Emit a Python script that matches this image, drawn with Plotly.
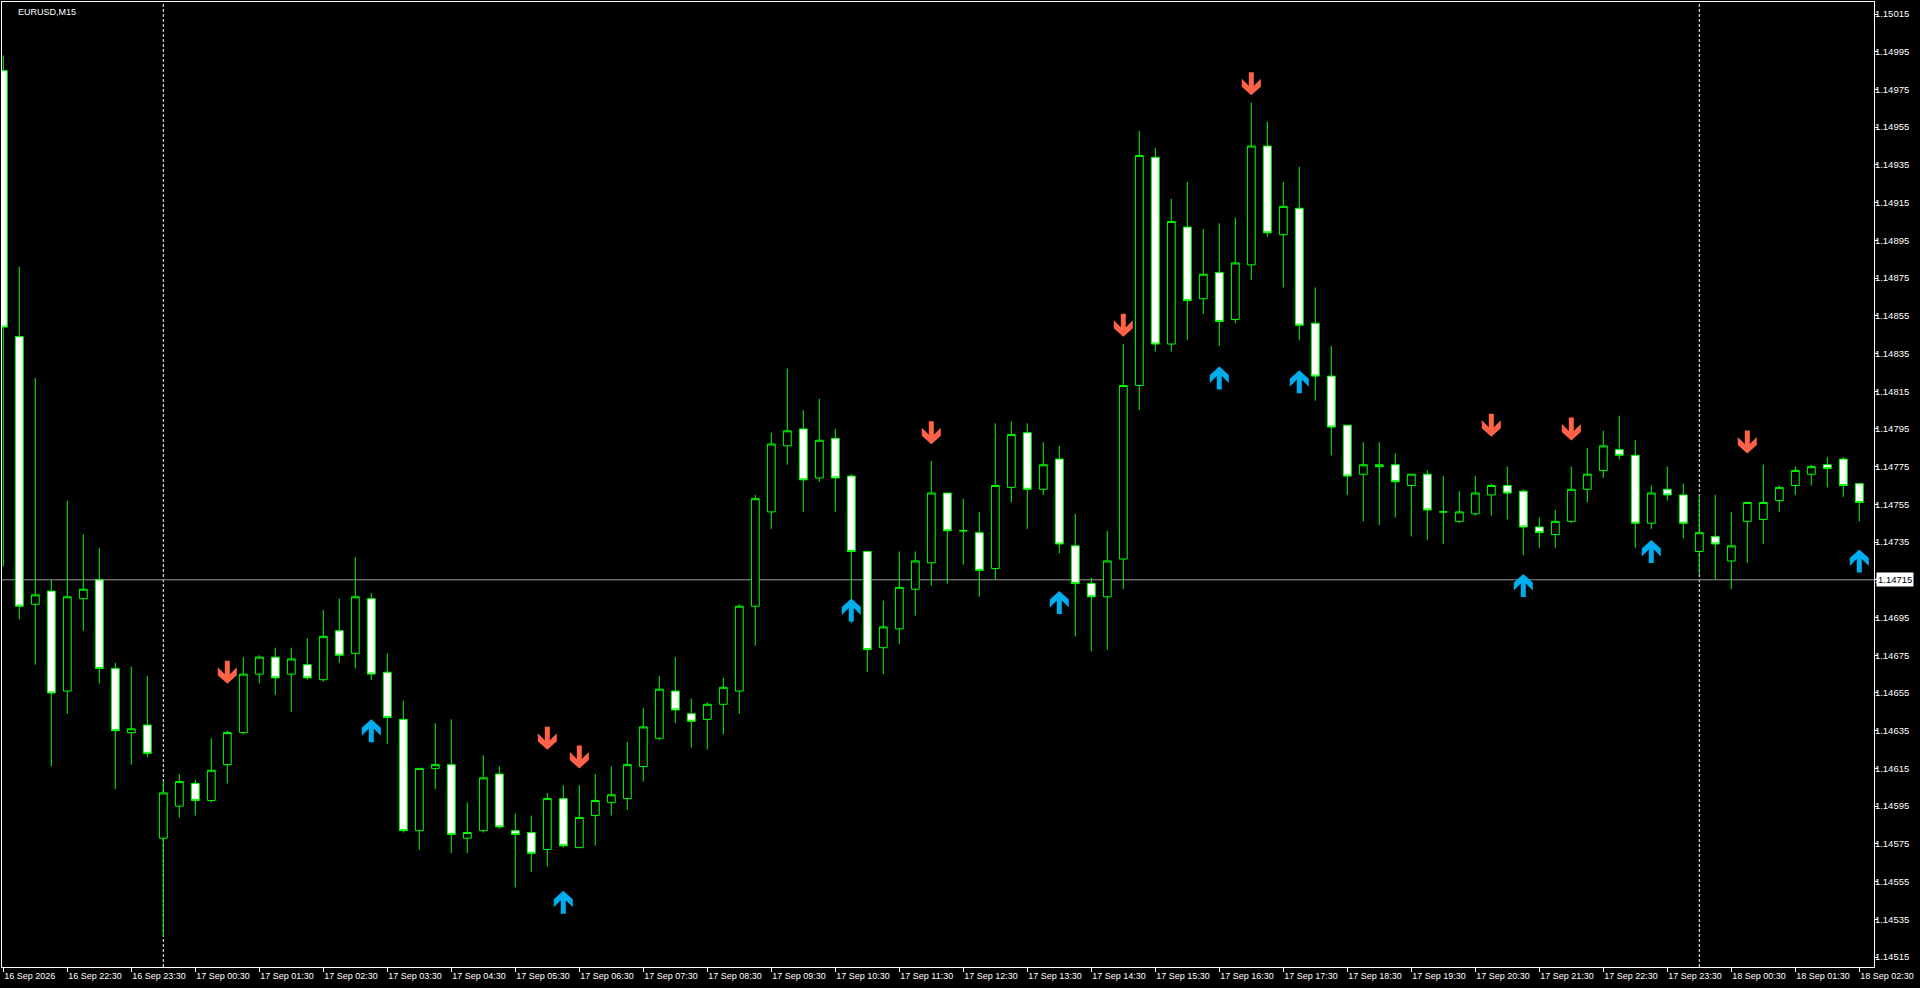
import plotly.graph_objects as go
import pandas as pd

# ---------------- data ----------------
start_time = "2026-09-16 21:30"
n_bars = 117
bar_times = pd.date_range(start_time, periods=n_bars, freq="15min")

open_ = [1.14985, 1.14844, 1.14702, 1.14709, 1.14656, 1.14705, 1.14715, 1.14668, 1.14634, 1.14638,
         1.14578, 1.14595, 1.14607, 1.14598, 1.14617, 1.14634, 1.14665, 1.14674, 1.14665, 1.14670,
         1.14662, 1.14688, 1.14676, 1.14705, 1.14666, 1.14641, 1.14582, 1.14615, 1.14617, 1.14578,
         1.14582, 1.14612, 1.14582, 1.14581, 1.14572, 1.14599, 1.14573, 1.14590, 1.14597, 1.14599,
         1.14616, 1.14631, 1.14656, 1.14644, 1.14641, 1.14649, 1.14656, 1.14701, 1.14751, 1.14786,
         1.14795, 1.14769, 1.14790, 1.14770, 1.14730, 1.14679, 1.14689, 1.14710, 1.14724, 1.14761,
         1.14741, 1.14740, 1.14721, 1.14764, 1.14793, 1.14763, 1.14779, 1.14733, 1.14713, 1.14706,
         1.14726, 1.14818, 1.14939, 1.14840, 1.14902, 1.14864, 1.14878, 1.14853, 1.14882, 1.14945,
         1.14898, 1.14912, 1.14851, 1.14823, 1.14797, 1.14771, 1.14775, 1.14776, 1.14765, 1.14771,
         1.14751, 1.14746, 1.14750, 1.14760, 1.14765, 1.14762, 1.14743, 1.14739, 1.14746, 1.14763,
         1.14773, 1.14784, 1.14781, 1.14745, 1.14763, 1.14760, 1.14730, 1.14738, 1.14725, 1.14746,
         1.14747, 1.14757, 1.14765, 1.14771, 1.14776, 1.14779, 1.14766]
high = [1.14993, 1.14881, 1.14822, 1.14715, 1.14757, 1.14739, 1.14732, 1.14671, 1.14669, 1.14664,
        1.14608, 1.14612, 1.14609, 1.14631, 1.14635, 1.14674, 1.14675, 1.14679, 1.14679, 1.14684,
        1.14699, 1.14705, 1.14727, 1.14708, 1.14676, 1.14651, 1.14615, 1.14639, 1.14641, 1.14597,
        1.14622, 1.14616, 1.14591, 1.14590, 1.14602, 1.14606, 1.14606, 1.14612, 1.14616, 1.14629,
        1.14647, 1.14664, 1.14674, 1.14652, 1.14650, 1.14663, 1.14702, 1.14760, 1.14793, 1.14827,
        1.14805, 1.14811, 1.14795, 1.14771, 1.14730, 1.14704, 1.14730, 1.14730, 1.14778, 1.14761,
        1.14758, 1.14751, 1.14798, 1.14799, 1.14798, 1.14788, 1.14786, 1.14750, 1.14716, 1.14741,
        1.14840, 1.14953, 1.14944, 1.14917, 1.14926, 1.14901, 1.14904, 1.14907, 1.14968, 1.14958,
        1.14926, 1.14934, 1.14870, 1.14839, 1.14797, 1.14788, 1.14788, 1.14782, 1.14771, 1.14773,
        1.14770, 1.14762, 1.14770, 1.14766, 1.14775, 1.14763, 1.14748, 1.14752, 1.14775, 1.14785,
        1.14794, 1.14802, 1.14789, 1.14765, 1.14775, 1.14766, 1.14760, 1.14760, 1.14751, 1.14756,
        1.14776, 1.14765, 1.14775, 1.14776, 1.14780, 1.14780, 1.14766]
low = [1.14722, 1.14694, 1.14670, 1.14616, 1.14644, 1.14688, 1.14660, 1.14604, 1.14617, 1.14621,
       1.14526, 1.14589, 1.14590, 1.14597, 1.14607, 1.14633, 1.14660, 1.14654, 1.14645, 1.14662,
       1.14661, 1.14671, 1.14668, 1.14662, 1.14628, 1.14581, 1.14572, 1.14604, 1.14570, 1.14570,
       1.14581, 1.14583, 1.14552, 1.14560, 1.14563, 1.14573, 1.14573, 1.14574, 1.14590, 1.14593,
       1.14608, 1.14630, 1.14639, 1.14626, 1.14625, 1.14633, 1.14644, 1.14680, 1.14742, 1.14776,
       1.14751, 1.14767, 1.14751, 1.14692, 1.14666, 1.14665, 1.14681, 1.14696, 1.14712, 1.14713,
       1.14723, 1.14706, 1.14715, 1.14756, 1.14742, 1.14760, 1.14729, 1.14685, 1.14677, 1.14678,
       1.14710, 1.14805, 1.14836, 1.14836, 1.14842, 1.14856, 1.14839, 1.14851, 1.14874, 1.14897,
       1.14870, 1.14842, 1.14810, 1.14781, 1.14760, 1.14746, 1.14744, 1.14748, 1.14738, 1.14736,
       1.14734, 1.14745, 1.14749, 1.14749, 1.14747, 1.14728, 1.14732, 1.14732, 1.14745, 1.14756,
       1.14769, 1.14779, 1.14732, 1.14742, 1.14757, 1.14737, 1.14718, 1.14715, 1.14710, 1.14724,
       1.14734, 1.14751, 1.14760, 1.14765, 1.14764, 1.14759, 1.14746]
close = [1.14849, 1.14701, 1.14707, 1.14655, 1.14706, 1.14710, 1.14668, 1.14635, 1.14636, 1.14623,
         1.14602, 1.14608, 1.14598, 1.14614, 1.14634, 1.14665, 1.14674, 1.14663, 1.14673, 1.14663,
         1.14685, 1.14675, 1.14706, 1.14665, 1.14642, 1.14582, 1.14615, 1.14617, 1.14580, 1.14581,
         1.14610, 1.14584, 1.14580, 1.14570, 1.14599, 1.14574, 1.14589, 1.14598, 1.14601, 1.14617,
         1.14637, 1.14657, 1.14646, 1.14640, 1.14649, 1.14658, 1.14701, 1.14758, 1.14787, 1.14794,
         1.14768, 1.14789, 1.14769, 1.14730, 1.14678, 1.14690, 1.14711, 1.14725, 1.14761, 1.14741,
         1.14741, 1.14720, 1.14765, 1.14792, 1.14763, 1.14776, 1.14734, 1.14713, 1.14706, 1.14725,
         1.14818, 1.14940, 1.14840, 1.14905, 1.14863, 1.14877, 1.14852, 1.14883, 1.14945, 1.14899,
         1.14913, 1.14850, 1.14823, 1.14796, 1.14770, 1.14776, 1.14776, 1.14767, 1.14771, 1.14752,
         1.14751, 1.14751, 1.14761, 1.14765, 1.14761, 1.14743, 1.14740, 1.14746, 1.14763, 1.14771,
         1.14786, 1.14781, 1.14745, 1.14761, 1.14760, 1.14745, 1.14740, 1.14734, 1.14733, 1.14756,
         1.14756, 1.14764, 1.14773, 1.14775, 1.14774, 1.14765, 1.14756]

down_arrow_times = ["2026-09-17 01:00", "2026-09-17 06:00", "2026-09-17 06:30", "2026-09-17 12:00",
                    "2026-09-17 15:00", "2026-09-17 17:00", "2026-09-17 20:45", "2026-09-17 22:00",
                    "2026-09-18 00:45"]
down_arrow_prices = [1.14666, 1.14631, 1.14621, 1.14793, 1.14850, 1.14978, 1.14797, 1.14795, 1.14788]

up_arrow_times = ["2026-09-17 03:15", "2026-09-17 06:15", "2026-09-17 10:45", "2026-09-17 14:00",
                  "2026-09-17 16:30", "2026-09-17 17:45", "2026-09-17 21:15", "2026-09-17 23:15",
                  "2026-09-18 02:30"]
up_arrow_prices = [1.14635, 1.14544, 1.14699, 1.14703, 1.14822, 1.14820, 1.14712, 1.14730, 1.14725]

separator_times = ["2026-09-17 00:00", "2026-09-18 00:00"]
price_line = 1.14715
symbol_label = "EURUSD,M15"

x_tick_times = ["2026-09-16 21:30", "2026-09-16 22:30", "2026-09-16 23:30", "2026-09-17 00:30",
                "2026-09-17 01:30", "2026-09-17 02:30", "2026-09-17 03:30", "2026-09-17 04:30",
                "2026-09-17 05:30", "2026-09-17 06:30", "2026-09-17 07:30", "2026-09-17 08:30",
                "2026-09-17 09:30", "2026-09-17 10:30", "2026-09-17 11:30", "2026-09-17 12:30",
                "2026-09-17 13:30", "2026-09-17 14:30", "2026-09-17 15:30", "2026-09-17 16:30",
                "2026-09-17 17:30", "2026-09-17 18:30", "2026-09-17 19:30", "2026-09-17 20:30",
                "2026-09-17 21:30", "2026-09-17 22:30", "2026-09-17 23:30", "2026-09-18 00:30",
                "2026-09-18 01:30", "2026-09-18 02:30"]
x_tick_labels = ["16 Sep 2026", "16 Sep 22:30", "16 Sep 23:30", "17 Sep 00:30", "17 Sep 01:30",
                 "17 Sep 02:30", "17 Sep 03:30", "17 Sep 04:30", "17 Sep 05:30", "17 Sep 06:30",
                 "17 Sep 07:30", "17 Sep 08:30", "17 Sep 09:30", "17 Sep 10:30", "17 Sep 11:30",
                 "17 Sep 12:30", "17 Sep 13:30", "17 Sep 14:30", "17 Sep 15:30", "17 Sep 16:30",
                 "17 Sep 17:30", "17 Sep 18:30", "17 Sep 19:30", "17 Sep 20:30", "17 Sep 21:30",
                 "17 Sep 22:30", "17 Sep 23:30", "18 Sep 00:30", "18 Sep 01:30", "18 Sep 02:30"]
y_tick_values = [1.15015, 1.14995, 1.14975, 1.14955, 1.14935, 1.14915, 1.14895, 1.14875, 1.14855,
                 1.14835, 1.14815, 1.14795, 1.14775, 1.14755, 1.14735, 1.14715, 1.14695, 1.14675,
                 1.14655, 1.14635, 1.14615, 1.14595, 1.14575, 1.14555, 1.14535, 1.14515]
y_tick_labels = [f"{v:.5f}" for v in y_tick_values]

# ---------------- style ----------------
FONT = "Liberation Sans"
FG = "#FFFFFF"
CANDLE_LINE = "#00FF00"
DOWN_COLOR = "#FF6347"
UP_COLOR = "#00AEEF"

fig = go.Figure()
fig.add_trace(go.Candlestick(
    x=bar_times, open=open_, high=high, low=low, close=close,
    increasing=dict(line=dict(color=CANDLE_LINE, width=1), fillcolor="#000000"),
    decreasing=dict(line=dict(color=CANDLE_LINE, width=1), fillcolor="#FFFFFF"),
    whiskerwidth=0, hoverinfo="skip", showlegend=False,
))

shapes = []
for t in separator_times:
    shapes.append(dict(type="line", xref="x", yref="paper", x0=t, x1=t, y0=0, y1=1,
                       line=dict(color=FG, width=1, dash="3px,2px"), layer="below"))
shapes.append(dict(type="line", xref="paper", yref="y", x0=0, x1=1, y0=price_line, y1=price_line,
                   line=dict(color="#9A9A9A", width=1), layer="below"))

# arrow glyph outline in pixels (y up), centred on anchor
down_path = "M-2.5,11.5 L2.5,11.5 L2.5,-2 L9.5,5 L9.5,-3 L0,-11.5 L-9.5,-3 L-9.5,5 L-2.5,-2 Z"
up_path = "M-2.5,-11.5 L2.5,-11.5 L2.5,2 L9.5,-5 L9.5,3 L0,11.5 L-9.5,3 L-9.5,-5 L-2.5,2 Z"
for t, p in zip(down_arrow_times, down_arrow_prices):
    shapes.append(dict(type="path", xref="x", yref="y", xsizemode="pixel", ysizemode="pixel",
                       xanchor=t, yanchor=p, path=down_path, fillcolor=DOWN_COLOR,
                       line=dict(width=0), layer="above"))
for t, p in zip(up_arrow_times, up_arrow_prices):
    shapes.append(dict(type="path", xref="x", yref="y", xsizemode="pixel", ysizemode="pixel",
                       xanchor=t, yanchor=p, path=up_path, fillcolor=UP_COLOR,
                       line=dict(width=0), layer="above"))

annotations = [
    dict(text=symbol_label, xref="paper", yref="paper", x=0.0075, y=1, xanchor="left", yanchor="top",
         yshift=-3, showarrow=False, font=dict(family=FONT, size=9, color=FG)),
    dict(text=f"{price_line:.5f}", xref="paper", yref="y", x=1, y=price_line, xanchor="left",
         yanchor="middle", xshift=2, showarrow=False, bgcolor="#FFFFFF", borderpad=1,
         font=dict(family=FONT, size=9.5, color="#000000")),
]

fig.update_layout(
    width=1920, height=988,
    margin=dict(l=2, r=46, t=2, b=21),
    paper_bgcolor="#000000", plot_bgcolor="#000000",
    showlegend=False, shapes=shapes, annotations=annotations,
    font=dict(family=FONT, size=9, color=FG),
    hovermode=False,
    xaxis=dict(
        type="date", range=["2026-09-16 21:28:47", "2026-09-18 02:43:47"],
        tickmode="array", tickvals=x_tick_times, ticktext=x_tick_labels,
        ticks="outside", ticklen=4, tickcolor=FG, tickwidth=1,
        ticklabelposition="outside right",
        tickfont=dict(family=FONT, size=9, color=FG),
        showgrid=False, zeroline=False, showline=True, linecolor=FG, linewidth=1, mirror=True,
        rangeslider=dict(visible=False), fixedrange=True,
    ),
    yaxis=dict(
        side="right", range=[1.145097, 1.1502136],
        tickmode="array", tickvals=y_tick_values, ticktext=y_tick_labels,
        ticks="outside", ticklen=3, tickcolor=FG, tickwidth=1,
        ticklabelstandoff=-5,
        tickfont=dict(family=FONT, size=9.5, color=FG),
        showgrid=False, zeroline=False, showline=True, linecolor=FG, linewidth=1, mirror=True,
        fixedrange=True,
    ),
)

fig.write_html("out.html", config={"displayModeBar": False},
               post_script="document.body.style.margin='0';document.body.style.overflow='hidden';")
